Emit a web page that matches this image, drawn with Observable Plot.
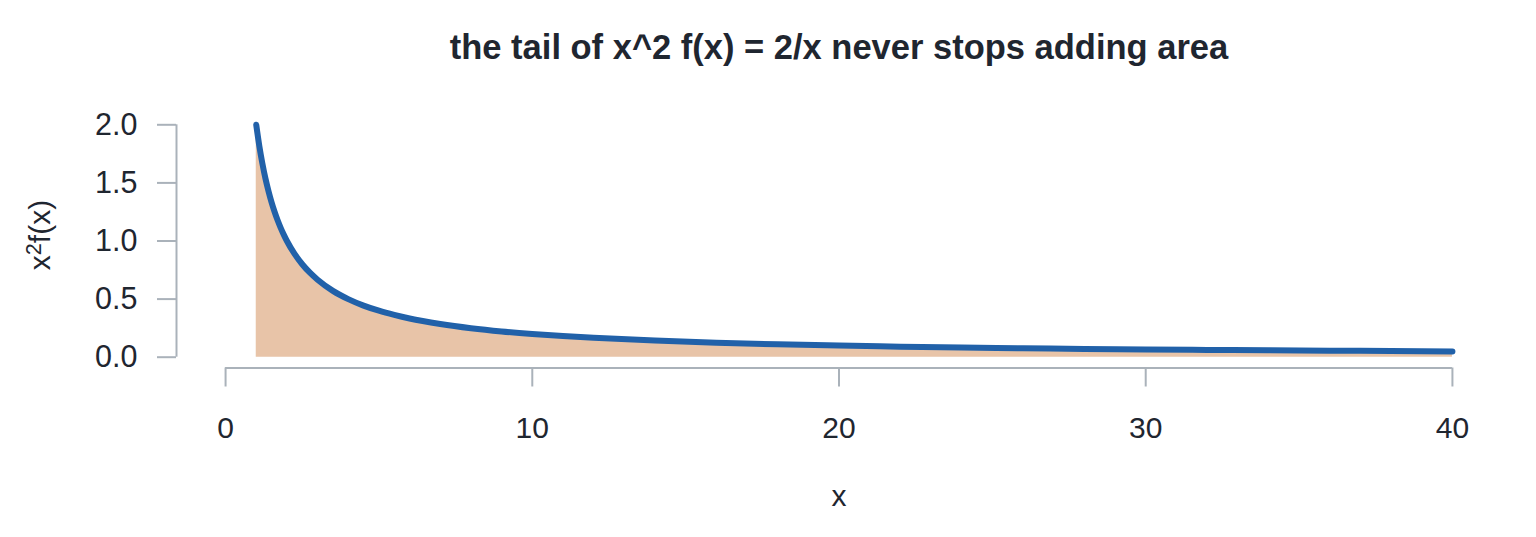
<!DOCTYPE html>
<html>
<head>
<meta charset="utf-8">
<script src="https://cdn.jsdelivr.net/npm/d3@7"></script>
<script src="https://cdn.jsdelivr.net/npm/@observablehq/plot@0.6"></script>
<style>
  html, body { margin: 0; padding: 0; background: #fff; }
  svg { display: block; }
</style>
</head>
<body>
<div id="chart"></div>
<script>
// x values read along the curve, and x^2 f(x) values read at them
const xs = [1, 1.1, 1.2, 1.3, 1.4, 1.5, 1.6, 1.7, 1.8, 1.9, 2, 2.25, 2.5, 2.75, 3, 3.5, 4, 4.5, 5, 5.5, 6, 7, 8, 9, 10, 11, 12, 14, 16, 18, 20, 22, 24, 26, 28, 30, 32, 34, 36, 38, 40];
const ys = [2, 1.818, 1.667, 1.538, 1.429, 1.333, 1.25, 1.176, 1.111, 1.053, 1.0, 0.889, 0.8, 0.727, 0.667, 0.571, 0.5, 0.444, 0.4, 0.364, 0.333, 0.286, 0.25, 0.222, 0.2, 0.182, 0.167, 0.143, 0.125, 0.111, 0.1, 0.091, 0.083, 0.077, 0.071, 0.067, 0.0625, 0.059, 0.056, 0.053, 0.05];
const xTicks = [0, 10, 20, 30, 40];
const yTicks = [0, 0.5, 1, 1.5, 2];
const titleText = "the tail of x^2 f(x) = 2/x never stops adding area";
const xLabel = "x";
const yLabel = "x2f(x)";

const data = xs.map((x, i) => ({x, y: ys[i]}));

const ink = "#1f2630";
const axisGray = "#aab2ba";
const font = "'Liberation Sans', Arial, Helvetica, sans-serif";

const chart = Plot.plot({
  width: 1536,
  height: 537,
  marginLeft: 176,
  marginRight: 35,
  marginTop: 115,
  marginBottom: 171,
  style: {fontFamily: font, color: ink, background: "#fff"},
  x: {domain: [-1.6, 41.6]},
  y: {domain: [-0.08, 2.08]},
  marks: [
    Plot.areaY(data, {x: "x", y: "y", fill: "#e8c4a8", curve: "monotone-x"}),
    Plot.line(data, {x: "x", y: "y", stroke: "#2161a9", strokeWidth: 6, strokeLinecap: "round", strokeLinejoin: "round", curve: "monotone-x"}),
    // axis lines spanning the tick range
    Plot.ruleY([-0.08], {x1: xTicks[0], x2: xTicks[xTicks.length - 1], stroke: axisGray, strokeWidth: 2, dy: 1.5}),
    Plot.ruleX([-1.6], {y1: yTicks[0], y2: yTicks[yTicks.length - 1], stroke: axisGray, strokeWidth: 2}),
    Plot.axisX(xTicks, {anchor: "bottom", tickSize: 19, tickPadding: 30, fontSize: 30, stroke: axisGray, fill: ink, strokeWidth: 2, dy: 1.5, label: null, tickFormat: d3.format("d")}),
    Plot.axisY(yTicks, {anchor: "left", tickSize: 19, tickPadding: 20, fontSize: 30.5, stroke: axisGray, fill: ink, strokeWidth: 2, label: null, tickFormat: d3.format(".1f")}),
    Plot.text([titleText], {frameAnchor: "top", dy: -68, lineAnchor: "middle", fontSize: 34.5, fontWeight: "bold", fill: ink}),
    Plot.text([xLabel], {frameAnchor: "bottom", dy: 130, lineAnchor: "middle", fontSize: 30, fill: ink}),
    Plot.text([yLabel], {frameAnchor: "left", dx: -136, dy: -6, rotate: -90, textAnchor: "middle", lineAnchor: "middle", fontSize: 30, fill: ink, className: "ylab"})
  ]
});
// render the y label's exponent as a raised, smaller "2"
d3.select(chart).selectAll("text").filter(function() { return this.textContent === yLabel; }).each(function() {
  const t = d3.select(this);
  t.text(null);
  t.append("tspan").text("x");
  t.append("tspan").attr("dy", "-0.42em").attr("font-size", "0.72em").text("2");
  t.append("tspan").attr("dy", "0.3em").text("f(x)");
});
document.getElementById("chart").appendChild(chart);
</script>
</body>
</html>
